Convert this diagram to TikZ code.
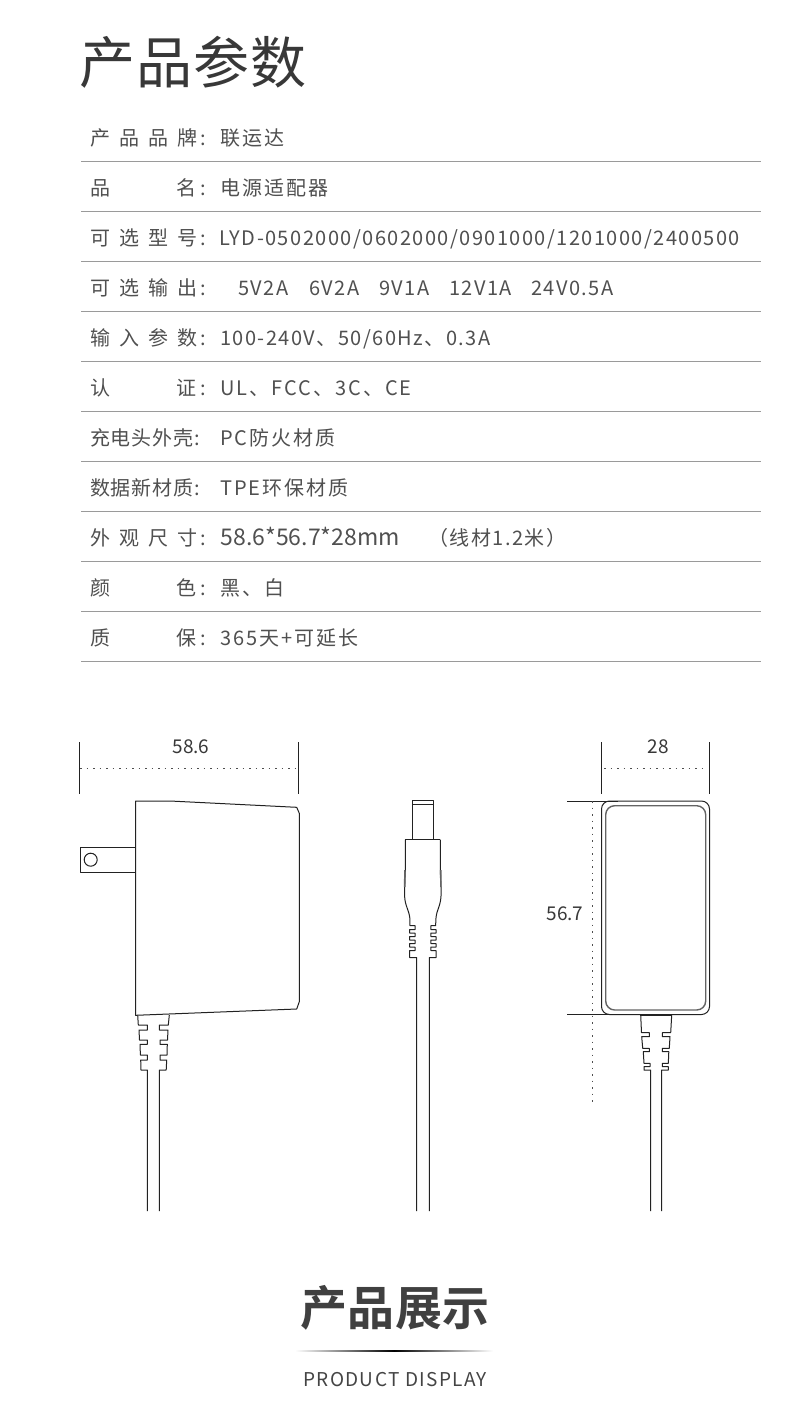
\documentclass[tikz,border=0pt]{standalone}
\usepackage{fontspec}
\setmainfont{Noto Sans CJK SC}
\newfontfamily\cjkls[LetterSpace=4]{Noto Sans CJK SC}
\newfontfamily\cjkwide[LetterSpace=7.2]{Noto Sans CJK SC}
\newfontfamily\cjkvalue[LetterSpace=10]{Noto Sans CJK SC}
\newfontfamily\cjktight[LetterSpace=2.2]{Noto Sans CJK SC}
\newfontfamily\cjkbold[BoldFont={Noto Sans CJK SC Bold},LetterSpace=1.2]{Noto Sans CJK SC}
\newcommand\fourc[4]{\makebox[29pt][l]{#1}\makebox[29pt][l]{#2}\makebox[29pt][l]{#3}\makebox[23pt][l]{#4}:}
\newcommand\twoc[2]{\makebox[86.5pt][l]{#1}\makebox[23.5pt][l]{#2}:}
\newcommand\pfs{\fontsize{20pt}{24pt}\selectfont}
\definecolor{txt}{HTML}{505050}
\definecolor{rowline}{HTML}{9A9A9A}
\definecolor{ink}{HTML}{222222}
\tikzset{
  lab/.style={anchor=base west,inner sep=0pt,text=txt,font=\cjkls\pfs},
  valtxt/.style={anchor=base west,inner sep=0pt,text=txt,font=\cjkwide\pfs},
  valcjk/.style={anchor=base west,inner sep=0pt,text=txt,font=\cjkvalue\pfs},
  rowrule/.style={draw=rowline,line width=1pt},
  part/.style={draw=ink,line width=1pt,line join=round},
  dimline/.style={draw=ink,line width=1pt},
  dimdot/.style={draw=ink!80,line width=.8pt,dash pattern=on 1.5pt off 5pt},
  dimtxt/.style={inner sep=0pt,text=ink!90,font=\fontsize{19pt}{22pt}\selectfont}
}
\begin{document}
\begin{tikzpicture}[x=1pt,y=-1pt]
\useasboundingbox (0,0) rectangle (790,1416);
\fill[white] (0,0) rectangle (790,1416);
\node[anchor=base west,inner sep=0pt,text=txt!70!black,font=\cjktight\fontsize{56pt}{60pt}\selectfont] (title) at (79,83) {产品参数};
% rows
\foreach \y in {161.5,211.5,261.5,311.5,361.5,411.5,461.5,511.5,561.5,611.5,661.5}
  \draw[rowrule] (81,\y) -- (761,\y);
\node[lab] (l1) at (90,145) {\fourc{产}{品}{品}{牌}};
\node[valcjk] (v1) at (220,145) {联运达};
\node[lab] (l2) at (90,195) {\twoc{品}{名}};
\node[valcjk] (v2) at (220,195) {电源适配器};
\node[lab] (l3) at (90,245) {\fourc{可}{选}{型}{号}};
\node[valtxt] (v3) at (219,245) {LYD-0502000/0602000/0901000/1201000/2400500};
\node[lab] (l4) at (90,295) {\fourc{可}{选}{输}{出}};
\node[valtxt] (v4a) at (238,295) {5V2A};
\node[valtxt] (v4b) at (309,295) {6V2A};
\node[valtxt] (v4c) at (379,295) {9V1A};
\node[valtxt] (v4d) at (449,295) {12V1A};
\node[valtxt] (v4e) at (531,295) {24V0.5A};
\node[lab] (l5) at (90,345) {\fourc{输}{入}{参}{数}};
\node[valtxt] (v5) at (220,345) {100-240V、50/60Hz、0.3A};
\node[lab] (l6) at (90,395) {\twoc{认}{证}};
\node[valcjk] (v6) at (220,395) {UL、FCC、3C、CE};
\node[lab] (l7) at (90,445) {充电头外壳:};
\node[valcjk] (v7) at (220,445) {PC防火材质};
\node[lab] (l8) at (90,495) {数据新材质:};
\node[valcjk] (v8) at (220,495) {TPE环保材质};
\node[lab] (l9) at (90,545) {\fourc{外}{观}{尺}{寸}};
\node[anchor=base west,inner sep=0pt,text=txt,font=\fontsize{23pt}{28pt}\selectfont] (v9a) at (220.5,545.5) {58.6*56.7*28mm};
\node[valtxt] (v9b) at (428,545) {（线材1.2米）};
\node[lab] (l10) at (90,595) {\twoc{颜}{色}};
\node[valcjk] (v10) at (220,595) {黑、白};
\node[lab] (l11) at (90,645) {\twoc{质}{保}};
\node[valcjk] (v11) at (220,645) {365天+可延长};
% side view
\draw[dimline] (79.5,742) -- (79.5,794) (298.5,742) -- (298.5,794);
\draw[dimdot] (80,768.5) -- (296,768.5);
\node[dimtxt] (d1) at (191,747) {58.6};
\draw[part] (135.5,801) -- (170,801) -- (296.7,807.3) -- (299.3,813.3) -- (299.3,1001.7) -- (296.7,1009) -- (135.5,1015.3) -- cycle;
\draw[part] (135.5,847.5) -- (80.5,847.5) -- (80.5,872) -- (135.5,872);
\draw[part] (90.7,859.7) circle (6.5);
\draw[part] (137.7,1015.3) -- (138.3,1025) -- (147.3,1025) -- (147.3,1030) -- (139,1030) -- (139.5,1040) -- (147.3,1040) -- (147.3,1044.3) -- (140,1044.3) -- (140.4,1055) -- (147.3,1055) -- (147.3,1060) -- (140.7,1060) -- (141,1070) -- (147.3,1070) -- (147.3,1211);
\draw[part] (169.3,1015) -- (168.3,1025) -- (159.3,1025) -- (159.3,1030) -- (168,1030) -- (167.5,1040) -- (160,1040) -- (160,1044.3) -- (167.3,1044.3) -- (167,1055) -- (160,1055) -- (160,1060) -- (166.7,1060) -- (166.2,1070) -- (159.3,1070) -- (159.3,1211);
% plug view
\draw[part] (412.7,839.5) -- (412.7,800.5) -- (433.3,800.5) -- (433.3,839.5);
\draw[part] (412.7,804.7) -- (433.3,804.7);
\draw[part] (405.3,839.5) -- (440.3,839.5);
\draw[part] (405.3,839.5) -- (405.3,870) -- (404.6,887) -- (404.6,896) .. controls (405,906) and (409,910) .. (409.8,918) -- (410,925.7) -- (415,925.7) -- (415,929.5) -- (409.6,929.5) -- (409.6,933) -- (415,933) -- (415,936.5) -- (409.6,936.5) -- (409.6,940) -- (415,940) -- (415,943.5) -- (409.6,943.5) -- (409.6,947) -- (415,947) -- (415,950.5) -- (409.6,950.5) -- (409.6,957.5) -- (416.7,957.5) -- (416.7,1211);
\draw[part] (440.3,839.5) -- (440.3,870) -- (441,887) -- (441,896) .. controls (440.6,906) and (436.6,910) .. (436,918) -- (435.6,925.7) -- (430.8,925.7) -- (430.8,929.5) -- (436,929.5) -- (436,933) -- (430.8,933) -- (430.8,936.5) -- (436,936.5) -- (436,940) -- (430.8,940) -- (430.8,943.5) -- (436,943.5) -- (436,947) -- (430.8,947) -- (430.8,950.5) -- (436,950.5) -- (436,957.5) -- (429.3,957.5) -- (429.3,1211);
\draw[ink!70,line width=1.6pt] (404.9,870) -- (404.7,887) (440.7,870) -- (440.9,887);
% front view
\draw[dimline] (601.5,742) -- (601.5,794) (709.5,742) -- (709.5,794);
\draw[dimdot] (604,768.5) -- (705,768.5);
\node[dimtxt] (d2) at (658.5,747) {28};
\draw[dimline] (567,801) -- (618,801) (567,1014.3) -- (618,1014.3);
\draw[dimdot] (592.3,801) -- (592.3,1104);
\node[dimtxt] (d3) at (565,914) {56.7};
\draw[part,rounded corners=8pt] (601.5,801) rectangle (709.5,1014.5);
\draw[draw=ink!70,line width=1.4pt,rounded corners=9pt] (605.7,805.7) rectangle (705.7,1010);
\draw[part] (640.7,1015) -- (671.7,1015);
\draw[part] (640.7,1015) -- (641.5,1032.7) -- (649.3,1032.7) -- (649.3,1036.7) -- (641.7,1036.7) -- (642.7,1048.3) -- (649.3,1048.3) -- (649.3,1051.7) -- (643.3,1051.7) -- (644,1063.3) -- (650,1063.3) -- (650,1066.7) -- (644,1066.7) -- (644,1070) -- (650.7,1070) -- (650.7,1211);
\draw[part] (671.7,1015) -- (670.7,1032.7) -- (662.3,1032.7) -- (662.3,1036.7) -- (670,1036.7) -- (669.3,1048.3) -- (662.3,1048.3) -- (662.3,1051.7) -- (668.8,1051.7) -- (668.3,1063.3) -- (662.3,1063.3) -- (662.3,1066.7) -- (668.3,1066.7) -- (668.3,1070) -- (661.7,1070) -- (661.7,1211);
% footer
\node[anchor=base west,inner sep=0pt,text=txt!80!black,font=\cjkbold\bfseries\fontsize{47pt}{52pt}\selectfont] (head) at (300,1325) {产品展示};
\shade[left color=white,right color=white,middle color=black] (295,1350.7) rectangle (493,1351.7);
\node[anchor=base west,inner sep=0pt,text=txt!85!black,font=\cjkwide\fontsize{19pt}{24pt}\selectfont] (sub) at (303,1386) {PRODUCT DISPLAY};
\end{tikzpicture}
\end{document}
